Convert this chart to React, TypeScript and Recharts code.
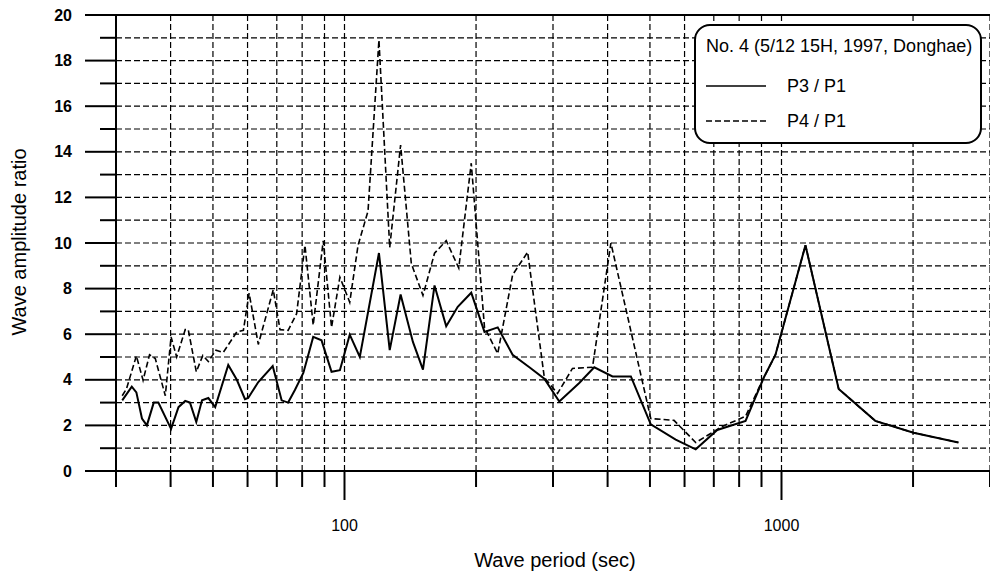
import React from "react";
import { LineChart, Line, XAxis, YAxis, CartesianGrid, ReferenceLine, Legend } from "recharts";

// Wave amplitude ratio vs. wave period (No. 4, Donghae)
const FONT = "'Liberation Sans', Arial, Helvetica, sans-serif";

const xTicks = [30, 40, 50, 60, 70, 80, 90, 100, 200, 300, 400, 500, 600, 700, 800, 900, 1000, 2000, 3000];
const xLabelTicks = [100, 1000];
const yTicks = [0, 1, 2, 3, 4, 5, 6, 7, 8, 9, 10, 11, 12, 13, 14, 15, 16, 17, 18, 19, 20];

const legendTitle = "No. 4 (5/12 15H, 1997, Donghae)";
const seriesNames = ["P3 / P1", "P4 / P1"];

// P3 / P1 (solid)
const p3Period = [
  31.0, 32.6, 33.4, 34.4, 35.3, 36.6, 37.5, 40.1, 41.7, 43.2,
  44.3, 45.8, 47.2, 48.8, 50.6, 54.2, 56.7, 59.2, 60.2, 63.5,
  68.5, 71.8, 74.3, 77.0, 80.5, 84.8, 88.6, 93.4, 97.6, 102.8,
  108.4, 119.9, 126.9, 134.4, 143.4, 151.2, 160.7, 170.9, 181.6, 195.0,
  209.1, 224.2, 242.5, 264.9, 286.6, 310.1, 344.5, 372.8, 410.5, 452.2,
  502.2, 572.7, 636.4, 712.8, 827.5, 911.1, 968.8, 1134.6, 1351.6, 1639,
  2005, 2540,
];
const p3Ratio = [
  3.1, 3.7, 3.45, 2.3, 2.0, 3.0, 3.0, 1.85, 2.8, 3.07,
  3.0, 2.15, 3.1, 3.2, 2.8, 4.65, 4.0, 3.15, 3.2, 3.9,
  4.6, 3.1, 3.0, 3.55, 4.3, 5.88, 5.73, 4.35, 4.42, 5.98,
  5.0, 9.56, 5.3, 7.74, 5.66, 4.45, 8.14, 6.35, 7.2, 7.82,
  6.1, 6.3, 5.1, 4.55, 4.05, 3.05, 3.86, 4.55, 4.15, 4.15,
  2.05, 1.38, 0.95, 1.8, 2.2, 4.1, 5.1, 9.9, 3.6, 2.2,
  1.68, 1.25,
];

// P4 / P1 (dashed)
const p4Period = [
  31.0, 31.7, 33.4, 34.6, 35.8, 36.9, 38.9, 40.1, 41.3, 43.2,
  43.9, 45.8, 47.4, 48.8, 50.8, 52.8, 56.7, 58.7, 60.5, 63.5,
  68.7, 71.2, 74.3, 77.7, 81.2, 84.8, 89.4, 93.4, 97.6, 102.8,
  107.4, 113.2, 119.9, 126.9, 134.4, 142.2, 151.2, 160.7, 170.9, 182.6,
  195.0, 209.1, 224.2, 242.5, 262.5, 286.6, 307.3, 332.4, 369.4, 407.0,
  502.2, 567.6, 636.4, 731.7, 827.5, 911.1, 968.8, 1134.6, 1351.6, 1639,
  2005, 2540,
];
const p4Ratio = [
  3.3, 3.6, 5.05, 3.98, 5.1, 4.93, 3.3, 5.88, 5.0, 6.2,
  6.2, 4.35, 5.07, 4.8, 5.3, 5.2, 6.1, 6.17, 7.8, 5.55,
  7.95, 6.2, 6.17, 6.9, 9.9, 6.4, 10.1, 6.3, 8.5, 7.4,
  9.9, 11.4, 18.9, 9.8, 14.3, 9.1, 7.7, 9.55, 10.1, 8.9,
  13.5, 6.3, 5.15, 8.6, 9.6, 4.1, 3.4, 4.5, 4.55, 10.0,
  2.3, 2.22, 1.25, 1.95, 2.4, 4.1, 5.1, 9.9, 3.6, 2.2,
  1.68, 1.25,
];

const p3Data = p3Period.map((period, i) => ({ period, ratio: p3Ratio[i] }));
const p4Data = p4Period.map((period, i) => ({ period, ratio: p4Ratio[i] }));

const XTick = (props: any) => {
  const { x, y, payload } = props;
  const v = payload.value;
  const major = xLabelTicks.includes(v);
  return (
    <g>
      <line x1={x} x2={x} y1={y} y2={y + (major ? 29 : 16)} stroke="#000" strokeWidth={2} />
      {major && (
        <text x={x} y={y + 54} textAnchor="middle" dominantBaseline="central" fontSize={16} fontFamily={FONT} fill="#000">
          {v}
        </text>
      )}
    </g>
  );
};

const YTick = (props: any) => {
  const { x, y, payload } = props;
  const v = payload.value;
  const major = v % 2 === 0;
  return (
    <g>
      <line x1={x - (major ? 31 : 16)} x2={x} y1={y} y2={y} stroke="#000" strokeWidth={2} />
      {major && (
        <text x={x - 44} y={y} textAnchor="end" dominantBaseline="central" fontSize={16} fontWeight="bold" fontFamily={FONT} fill="#000">
          {v}
        </text>
      )}
    </g>
  );
};

const LegendBox = () => (
  <svg width={290} height={122} style={{ display: "block" }}>
    <rect x={1} y={1} width={286} height={118} rx={15} ry={15} fill="#fff" stroke="#000" strokeWidth={2} />
    <text x={12} y={22} dominantBaseline="central" fontSize={18} fontFamily={FONT} fill="#000">
      {legendTitle}
    </text>
    <line x1={12} x2={72} y1={62} y2={62} stroke="#000" strokeWidth={1.6} />
    <text x={93} y={62} dominantBaseline="central" fontSize={18} fontFamily={FONT} fill="#000">
      {seriesNames[0]}
    </text>
    <line x1={12} x2={72} y1={97} y2={97} stroke="#000" strokeWidth={1.6} strokeDasharray="6 3" />
    <text x={93} y={97} dominantBaseline="central" fontSize={18} fontFamily={FONT} fill="#000">
      {seriesNames[1]}
    </text>
  </svg>
);

const App: React.FC = () => (
  <div style={{ position: "absolute", left: 0, top: 0, width: 990, height: 575, background: "#fff" }}>
    <LineChart width={990} height={575} margin={{ top: 15, right: 0, bottom: 0, left: 0 }}>
      <CartesianGrid stroke="#000" strokeWidth={1.2} strokeDasharray="6 3" />
      <XAxis
        dataKey="period"
        type="number"
        scale="log"
        domain={[30, 3000]}
        ticks={xTicks}
        interval={0}
        allowDataOverflow
        height={104}
        tickSize={0}
        tickMargin={0}
        tickLine={false}
        tick={<XTick />}
        axisLine={{ stroke: "#000", strokeWidth: 2 }}
        label={{
          content: () => (
            <text x={555} y={560} textAnchor="middle" dominantBaseline="central" fontSize={20} fontFamily={FONT} fill="#000">
              Wave period (sec)
            </text>
          ),
        }}
      />
      <YAxis
        type="number"
        domain={[0, 20]}
        ticks={yTicks}
        interval={0}
        width={116}
        tickSize={0}
        tickMargin={0}
        tickLine={false}
        tick={<YTick />}
        axisLine={{ stroke: "#000", strokeWidth: 2 }}
        label={{
          content: () => (
            <text
              x={19}
              y={242}
              textAnchor="middle"
              dominantBaseline="central"
              fontSize={20}
              fontFamily={FONT}
              fill="#000"
              transform="rotate(-90 19 242)"
            >
              Wave amplitude ratio
            </text>
          ),
        }}
      />
      <ReferenceLine y={20} stroke="#000" strokeWidth={2} />
      <Line
        data={p3Data}
        dataKey="ratio"
        name={seriesNames[0]}
        type="linear"
        stroke="#000"
        strokeWidth={2}
        dot={false}
        isAnimationActive={false}
      />
      <Line
        data={p4Data}
        dataKey="ratio"
        name={seriesNames[1]}
        type="linear"
        stroke="#000"
        strokeWidth={1.6}
        strokeDasharray="6 3"
        dot={false}
        isAnimationActive={false}
      />
      <Legend
        layout="horizontal"
        verticalAlign="middle"
        align="center"
        wrapperStyle={{ left: 694, top: 24, width: 290, height: 122 }}
        content={() => <LegendBox />}
      />
    </LineChart>
  </div>
);

export default App;
